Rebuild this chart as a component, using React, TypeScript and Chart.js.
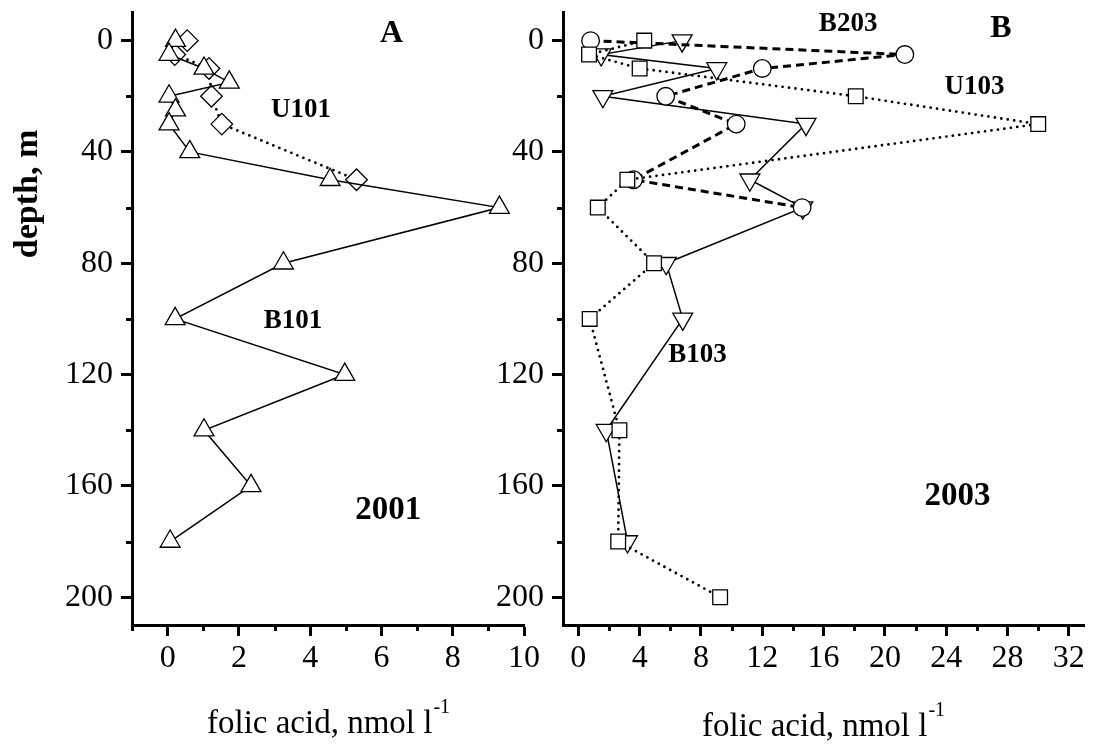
import React, { useEffect, useRef } from 'react';
import { Chart, registerables } from 'chart.js';

Chart.register(...registerables);

const FONT = "'Liberation Serif', 'Times New Roman', serif";
const W = 1097;
const H = 749;

// ---------- Panel A (2001) ----------
const depthB101 = [0, 5, 10, 15, 20, 25, 30, 40, 50, 60, 80, 100, 120, 140, 160, 180];
const folicB101 = [0.22, 0.04, 1.02, 1.73, 0.04, 0.22, 0.04, 0.62, 4.56, 9.31, 3.25, 0.21, 4.97, 1.02, 2.34, 0.07];
const depthU101 = [0, 5, 10, 20, 30, 50];
const folicU101 = [0.55, 0.2, 1.16, 1.23, 1.52, 5.3];

// ---------- Panel B (2003) ----------
const depthU103 = [0, 5, 10, 20, 30, 50, 60, 80, 100, 140, 180, 200];
const folicU103 = [4.3, 0.7, 4.0, 18.1, 30.0, 3.2, 1.27, 4.94, 0.74, 2.68, 2.6, 9.25];
const depthB203 = [0, 5, 10, 20, 30, 50, 60];
const folicB203 = [0.8, 21.3, 12.0, 5.7, 10.3, 3.6, 14.6];
const depthB103 = [0, 5, 10, 20, 30, 50, 60, 80, 100, 140, 180];
const folicB103 = [6.77, 1.49, 9.03, 1.6, 14.85, 11.19, 14.64, 5.73, 6.81, 1.82, 3.21];

// ---------- Axes ----------
const depthTicks = [0, 40, 80, 120, 160, 200];
const depthMinor = [20, 60, 100, 140, 180];
const xTicksA = [0, 2, 4, 6, 8, 10];
const xMinorA = [-1, 1, 3, 5, 7, 9];
const xTicksB = [0, 4, 8, 12, 16, 20, 24, 28, 32];
const xMinorB = [2, 6, 10, 14, 18, 22, 26, 30];

// ---------- Text labels (data coordinates) ----------
const labelsA = [
  { text: 'A', x: 6.28, y: -2.6, size: 32 },
  { text: 'U101', x: 3.74, y: 24.8, size: 27 },
  { text: 'B101', x: 3.52, y: 100.9, size: 27 },
  { text: '2001', x: 6.19, y: 168.9, size: 33 },
];
const labelsB = [
  { text: 'B', x: 27.56, y: -4.4, size: 32 },
  { text: 'B203', x: 17.6, y: -5.9, size: 27 },
  { text: 'U103', x: 25.84, y: 16.5, size: 27 },
  { text: 'B103', x: 7.78, y: 113.1, size: 27 },
  { text: '2003', x: 24.74, y: 163.8, size: 33 },
];

const yTitle = 'depth, m';
const xTitle = 'folic acid, nmol l';
const xTitleSup = '-1';

const pts = (depths: number[], vals: number[]) => depths.map((d, i) => ({ x: vals[i], y: d }));

const solid = { borderColor: '#000', borderWidth: 1.5, borderDash: [] as number[] };
const dotted = { borderColor: '#000', borderWidth: 2.8, borderDash: [0, 6.5], borderCapStyle: 'round' };
const dashed = { borderColor: '#000', borderWidth: 3, borderDash: [8, 5], borderCapStyle: 'butt' };

const marker = (style: string, r: number, rot = 0) => ({
  pointStyle: style,
  pointRadius: r,
  pointHoverRadius: r,
  pointRotation: rot,
  pointBackgroundColor: '#fff',
  pointBorderColor: '#000',
  pointBorderWidth: 1.3,
  pointHoverBorderWidth: 1.3,
});

type PanelOpts = {
  xMin: number;
  xMax: number;
  xTicks: number[];
  xMinor: number[];
  padLeft: number;
  padRight: number;
  yWidth: number;
  labels: { text: string; x: number; y: number; size: number }[];
  titleX: number;
  titleBaseline: number;
  showYTitle: boolean;
  datasets: any[];
};

function makeConfig(p: PanelOpts): any {
  const annot = {
    id: 'annot',
    afterDraw(chart: any) {
      const ctx = chart.ctx;
      const xs = chart.scales.x;
      const ys = chart.scales.y;
      const area = chart.chartArea;
      ctx.save();
      ctx.strokeStyle = '#000';
      ctx.lineWidth = 3;
      ctx.lineCap = 'butt';
      // minor ticks
      p.xMinor.forEach((v) => {
        const px = Math.round(xs.getPixelForValue(v)) + 0.5;
        ctx.beginPath();
        ctx.moveTo(px, area.bottom);
        ctx.lineTo(px, area.bottom + 6);
        ctx.stroke();
      });
      depthMinor.forEach((v) => {
        const py = Math.round(ys.getPixelForValue(v)) + 0.5;
        ctx.beginPath();
        ctx.moveTo(area.left, py);
        ctx.lineTo(area.left - 6, py);
        ctx.stroke();
      });
      // labels
      ctx.fillStyle = '#000';
      ctx.textAlign = 'center';
      ctx.textBaseline = 'middle';
      p.labels.forEach((l) => {
        ctx.font = `bold ${l.size}px ${FONT}`;
        ctx.fillText(l.text, xs.getPixelForValue(l.x), ys.getPixelForValue(l.y));
      });
      // x title
      ctx.textAlign = 'left';
      ctx.textBaseline = 'alphabetic';
      ctx.font = `33px ${FONT}`;
      ctx.fillText(xTitle, p.titleX, p.titleBaseline);
      const w = ctx.measureText(xTitle).width;
      ctx.font = `20px ${FONT}`;
      ctx.fillText(xTitleSup, p.titleX + w + 1, p.titleBaseline - 20);
      // y title
      if (p.showYTitle) {
        ctx.save();
        ctx.translate(37, 194);
        ctx.rotate(-Math.PI / 2);
        ctx.font = `bold 34px ${FONT}`;
        ctx.textAlign = 'center';
        ctx.textBaseline = 'alphabetic';
        ctx.fillText(yTitle, 0, 0);
        ctx.restore();
      }
      ctx.restore();
    },
  };

  const gridOpts = {
    display: true,
    drawOnChartArea: false,
    drawTicks: true,
    tickLength: 11,
    tickWidth: 3,
    tickColor: '#000',
    color: '#000',
  };

  return {
    type: 'scatter',
    data: { datasets: p.datasets },
    plugins: [annot],
    options: {
      responsive: false,
      animation: false,
      events: [],
      layout: { padding: { left: p.padLeft, right: p.padRight, top: 10, bottom: 0 } },
      plugins: { legend: { display: false }, tooltip: { enabled: false } },
      scales: {
        x: {
          type: 'linear',
          position: 'bottom',
          min: p.xMin,
          max: p.xMax,
          afterBuildTicks: (s: any) => {
            s.ticks = p.xTicks.map((v) => ({ value: v }));
          },
          afterFit: (s: any) => {
            s.height = H - 625;
            s.paddingLeft = 0;
            s.paddingRight = 0;
          },
          grid: gridOpts,
          border: { display: true, color: '#000', width: 3 },
          ticks: {
            color: '#000',
            font: { family: FONT, size: 32 },
            padding: 3,
            maxRotation: 0,
            autoSkip: false,
          },
        },
        y: {
          type: 'linear',
          position: 'left',
          reverse: true,
          min: -10,
          max: 210,
          afterBuildTicks: (s: any) => {
            s.ticks = depthTicks.map((v) => ({ value: v }));
          },
          afterFit: (s: any) => {
            s.width = p.yWidth;
            s.paddingTop = 0;
            s.paddingBottom = 0;
          },
          grid: gridOpts,
          border: { display: true, color: '#000', width: 3 },
          ticks: {
            color: '#000',
            font: { family: FONT, size: 32 },
            padding: 8,
            autoSkip: false,
          },
        },
      },
    },
  };
}

export default function App() {
  const refA = useRef<HTMLCanvasElement | null>(null);
  const refB = useRef<HTMLCanvasElement | null>(null);

  useEffect(() => {
    const chartB = new Chart(
      refB.current as HTMLCanvasElement,
      makeConfig({
        xMin: -1,
        xMax: 33,
        xTicks: xTicksB,
        xMinor: xMinorB,
        padLeft: 0,
        padRight: W - 1087,
        yWidth: 563,
        labels: labelsB,
        titleX: 702,
        titleBaseline: 736,
        showYTitle: false,
        datasets: [
          { label: 'U103', data: pts(depthU103, folicU103), showLine: true, ...dotted, ...marker('rect', 10.4) },
          { label: 'B203', data: pts(depthB203, folicB203), showLine: true, ...dashed, ...marker('circle', 8.8) },
          { label: 'B103', data: pts(depthB103, folicB103), showLine: true, ...solid, ...marker('triangle', 11.5, 180) },
        ],
      })
    );
    const chartA = new Chart(
      refA.current as HTMLCanvasElement,
      makeConfig({
        xMin: -1,
        xMax: 10,
        xTicks: xTicksA,
        xMinor: xMinorA,
        padLeft: 0,
        padRight: W - 524,
        yWidth: 132,
        labels: labelsA,
        titleX: 207,
        titleBaseline: 733,
        showYTitle: true,
        datasets: [
          { label: 'B101', data: pts(depthB101, folicB101), showLine: true, ...solid, ...marker('triangle', 11.5) },
          { label: 'U101', data: pts(depthU101, folicU101), showLine: true, ...dotted, ...marker('rectRot', 10.8) },
        ],
      })
    );
    return () => {
      chartA.destroy();
      chartB.destroy();
    };
  }, []);

  const cstyle: React.CSSProperties = { position: 'absolute', left: 0, top: 0 };
  return (
    <div style={{ position: 'absolute', left: 0, top: 0, width: W, height: H, background: '#fff' }}>
      <canvas ref={refB} width={W} height={H} style={cstyle} />
      <canvas ref={refA} width={W} height={H} style={cstyle} />
    </div>
  );
}
